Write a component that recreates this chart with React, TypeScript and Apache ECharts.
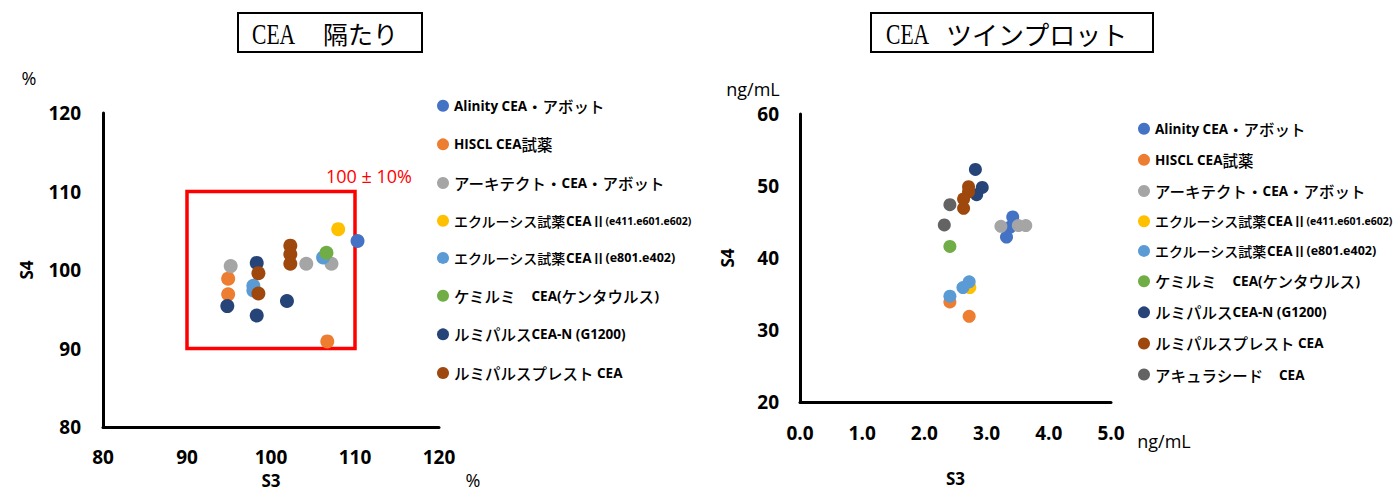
import React, { useEffect, useRef } from "react";
import * as echarts from "echarts";

// Reagent names (legend order)
const reagentNames = [
  "Alinity CEA・アボット",
  "HISCL CEA試薬",
  "アーキテクト・CEA・アボット",
  "エクルーシス試薬CEAⅡ(e411.e601.e602)",
  "エクルーシス試薬CEAⅡ(e801.e402)",
  "ケミルミ　CEA(ケンタウルス)",
  "ルミパルスCEA-N (G1200)",
  "ルミパルスプレスト CEA",
  "アキュラシード　CEA",
];

const reagentColors = [
  "#4472C4",
  "#ED7D31",
  "#A5A5A5",
  "#FFC000",
  "#5B9BD5",
  "#70AD47",
  "#264478",
  "#9E480E",
  "#636363",
];

// CEA 隔たり: [S3 %, S4 %]
const biasAlinity = [[110.3, 103.7]];
const biasHiscl = [[94.9, 98.9], [94.9, 96.9], [106.7, 90.9]];
const biasArchitect = [[95.2, 100.5], [104.2, 100.8], [107.2, 100.8]];
const biasElecsysE411 = [[108.0, 105.2]];
const biasElecsysE801 = [[106.2, 101.6], [97.9, 98.0], [97.9, 97.4]];
const biasChemilumi = [[106.6, 102.2]];
const biasLumipulseG1200 = [[94.8, 95.4], [98.3, 100.9], [98.3, 94.2], [101.9, 96.05]];
const biasLumipulsePresto = [[102.3, 103.1], [102.3, 102.0], [102.3, 100.8], [98.5, 99.6], [98.5, 97.0]];

// CEA ツインプロット: [S3 ng/mL, S4 ng/mL]
const twinAlinity = [[3.42, 45.7], [3.38, 44.3], [3.32, 42.9]];
const twinHiscl = [[2.41, 33.9], [2.72, 31.9]];
const twinArchitect = [[3.23, 44.4], [3.51, 44.5], [3.63, 44.5]];
const twinElecsysE411 = [[2.73, 35.9]];
const twinElecsysE801 = [[2.72, 36.7], [2.62, 35.9], [2.41, 34.7]];
const twinChemilumi = [[2.41, 41.6]];
const twinLumipulseG1200 = [[2.82, 52.3], [2.93, 49.8], [2.84, 48.8]];
const twinLumipulsePresto = [[2.71, 49.9], [2.71, 49.2], [2.63, 48.2], [2.63, 46.9]];
const twinAccuraseed = [[2.41, 47.4], [2.32, 44.6]];

const biasSeries = [
  biasAlinity,
  biasHiscl,
  biasArchitect,
  biasElecsysE411,
  biasElecsysE801,
  biasChemilumi,
  biasLumipulseG1200,
  biasLumipulsePresto,
];
const twinSeries = [
  twinAlinity,
  twinHiscl,
  twinArchitect,
  twinElecsysE411,
  twinElecsysE801,
  twinChemilumi,
  twinLumipulseG1200,
  twinLumipulsePresto,
  twinAccuraseed,
];

// Axis ranges
const biasRange = { min: 80, max: 120, interval: 10 };
const twinXRange = { min: 0, max: 5, interval: 1 };
const twinYRange = { min: 20, max: 60, interval: 10 };
const acceptLow = 90;
const acceptHigh = 110;

const LATIN = "'Open Sans', 'Noto Sans CJK JP', sans-serif";
const CJK = "'Noto Sans CJK JP', sans-serif";

// Split a legend name into runs of Latin / Japanese text for rich styling
function richName(name: string, idx: number): string {
  const small = idx === 3; // (e411.e601.e602) is set smaller
  const mid = idx === 4;
  const parenAt = name.indexOf("(e");
  let head = name;
  let tail = "";
  if (parenAt >= 0) {
    head = name.slice(0, parenAt);
    tail = name.slice(parenAt);
  }
  const runs = head.match(/[\x20-\x7E]+|[^\x20-\x7E]+/g) || [];
  const jp = idx === 3 || idx === 4 ? "js" : "j";
  let out = runs
    .map((r) => (/^[\x20-\x7E]+$/.test(r) ? `{l|${r}}` : `{${jp}|${r}}`))
    .join("");
  if (tail) out += small ? `{p|${tail}}` : mid ? `{q|${tail}}` : `{l|${tail}}`;
  return out;
}

const legendRich = {
  l: { fontFamily: LATIN, fontWeight: "bold", fontSize: 13.5, color: "#000", lineHeight: 16 },
  j: { fontFamily: CJK, fontWeight: 500, fontSize: 15.5, color: "#000", lineHeight: 16 },
  js: { fontFamily: CJK, fontWeight: 500, fontSize: 14, color: "#000", lineHeight: 16 },
  p: { fontFamily: LATIN, fontWeight: "bold", fontSize: 10.5, color: "#000", lineHeight: 16 },
  q: { fontFamily: LATIN, fontWeight: "bold", fontSize: 12.5, color: "#000", lineHeight: 16 },
};

const axisLabelStyle = {
  fontFamily: LATIN,
  fontWeight: "bold" as const,
  fontSize: 19,
  color: "#000",
};

const axisNameStyle = {
  fontFamily: LATIN,
  fontWeight: "bold" as const,
  fontSize: 17,
  color: "#000",
};

const axisLine = { show: true, onZero: false, lineStyle: { color: "#000", width: 3 } };

export default function App() {
  const ref = useRef<HTMLDivElement>(null);

  useEffect(() => {
    if (!ref.current) return;
    const chart = echarts.init(ref.current, null, { renderer: "svg" });

    const series: any[] = [];
    biasSeries.forEach((data, i) => {
      const s: any = {
        type: "scatter",
        name: reagentNames[i],
        xAxisIndex: 0,
        yAxisIndex: 0,
        data,
        symbolSize: 14,
        itemStyle: { color: reagentColors[i], opacity: 1 },
      };
      if (i === 0) {
        s.markArea = {
          silent: true,
          itemStyle: { color: "rgba(0,0,0,0)", borderColor: "#FF0000", borderWidth: 3.5 },
          data: [[{ xAxis: acceptLow, yAxis: acceptHigh }, { xAxis: acceptHigh, yAxis: acceptLow }]],
        };
      }
      series.push(s);
    });
    twinSeries.forEach((data, i) => {
      series.push({
        type: "scatter",
        name: reagentNames[i],
        xAxisIndex: 1,
        yAxisIndex: 1,
        data,
        symbolSize: 13,
        itemStyle: { color: reagentColors[i], opacity: 1 },
      });
    });

    const legendBase = {
      orient: "vertical" as const,
      icon: "circle",
      itemWidth: 12,
      itemHeight: 12,
      selectedMode: false,
      formatter: (name: string) => richName(name, reagentNames.indexOf(name)),
      textStyle: { rich: legendRich },
    };

    chart.setOption({
      animation: false,
      backgroundColor: "#fff",
      grid: [
        { left: 103, top: 113, width: 336, height: 314, outerBoundsMode: "none", containLabel: false },
        { left: 800, top: 114, width: 311, height: 288, outerBoundsMode: "none", containLabel: false },
      ],
      xAxis: [
        {
          gridIndex: 0,
          type: "value",
          ...biasRange,
          axisLine,
          axisTick: { show: false },
          splitLine: { show: false },
          axisLabel: { ...axisLabelStyle, margin: 20 },
          name: "S3",
          nameLocation: "middle",
          nameGap: 45,
          nameTextStyle: axisNameStyle,
        },
        {
          gridIndex: 1,
          type: "value",
          ...twinXRange,
          axisLine,
          axisTick: { show: false },
          splitLine: { show: false },
          axisLabel: { ...axisLabelStyle, margin: 21, formatter: (v: number) => v.toFixed(1) },
          name: "S3",
          nameLocation: "middle",
          nameGap: 68,
          nameTextStyle: axisNameStyle,
        },
      ],
      yAxis: [
        {
          gridIndex: 0,
          type: "value",
          ...biasRange,
          axisLine,
          axisTick: { show: false },
          splitLine: { show: false },
          axisLabel: { ...axisLabelStyle, margin: 22 },
          name: "S4",
          nameLocation: "middle",
          nameGap: 68,
          nameTextStyle: axisNameStyle,
        },
        {
          gridIndex: 1,
          type: "value",
          ...twinYRange,
          axisLine,
          axisTick: { show: false },
          splitLine: { show: false },
          axisLabel: { ...axisLabelStyle, margin: 21 },
          name: "S4",
          nameLocation: "middle",
          nameGap: 64,
          nameTextStyle: axisNameStyle,
        },
      ],
      legend: [
        {
          ...legendBase,
          left: 432,
          top: 93,
          itemGap: 23.1,
          data: reagentNames.slice(0, 8),
        },
        {
          ...legendBase,
          left: 1133,
          top: 116,
          itemGap: 15.6,
          data: reagentNames.slice(0, 9),
        },
      ],
      graphic: [
        // left title box
        {
          type: "rect",
          shape: { x: 238, y: 13, width: 184, height: 39 },
          style: { fill: "#fff", stroke: "#000", lineWidth: 2 },
        },
        {
          type: "text",
          x: 252,
          y: 34,
          scaleX: 0.72,
          style: {
            text: "CEA",
            font: "30px 'Liberation Serif', serif",
            fill: "#000",
            verticalAlign: "middle",
          },
        },
        {
          type: "text",
          x: 323,
          y: 33,
          style: {
            text: "隔たり",
            font: "25px 'Noto Sans CJK JP'",
            fill: "#000",
            verticalAlign: "middle",
          },
        },
        // right title box
        {
          type: "rect",
          shape: { x: 871, y: 13, width: 282, height: 39 },
          style: { fill: "#fff", stroke: "#000", lineWidth: 2 },
        },
        {
          type: "text",
          x: 886,
          y: 34,
          scaleX: 0.72,
          style: {
            text: "CEA",
            font: "30px 'Liberation Serif', serif",
            fill: "#000",
            verticalAlign: "middle",
          },
        },
        {
          type: "text",
          x: 946,
          y: 33,
          style: {
            text: "ツインプロット",
            font: "26px 'Noto Sans CJK JP'",
            fill: "#000",
            verticalAlign: "middle",
          },
        },
        // units
        {
          type: "text",
          x: 29,
          y: 78,
          style: { text: "%", font: `18px ${LATIN}`, fill: "#000", align: "center", verticalAlign: "middle" },
        },
        {
          type: "text",
          x: 473,
          y: 480,
          style: { text: "%", font: `18px ${LATIN}`, fill: "#000", align: "center", verticalAlign: "middle" },
        },
        {
          type: "text",
          x: 753,
          y: 89,
          style: { text: "ng/mL", font: `18px ${LATIN}`, fill: "#000", align: "center", verticalAlign: "middle" },
        },
        {
          type: "text",
          x: 1164,
          y: 441,
          style: { text: "ng/mL", font: `18px ${LATIN}`, fill: "#000", align: "center", verticalAlign: "middle" },
        },
        // acceptance range caption
        {
          type: "text",
          x: 412,
          y: 176,
          style: {
            text: "100 ± 10%",
            font: `18px ${LATIN}`,
            fill: "#FF0000",
            align: "right",
            verticalAlign: "middle",
          },
        },
      ],
      series,
    });

    return () => chart.dispose();
  }, []);

  return (
    <div
      ref={ref}
      style={{ position: "fixed", left: 0, top: 0, width: 1400, height: 494, background: "#fff" }}
    />
  );
}
